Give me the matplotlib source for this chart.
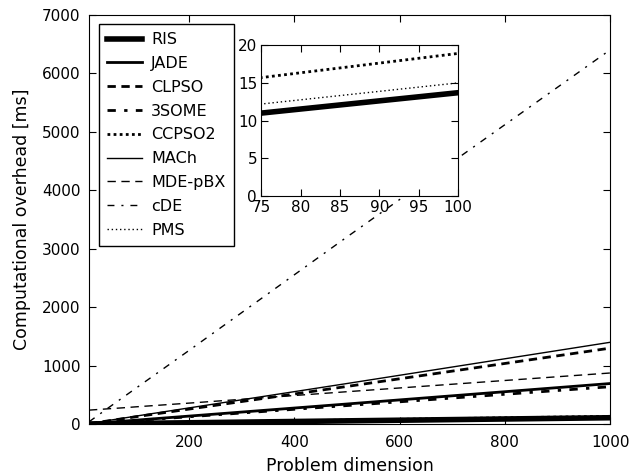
import matplotlib
matplotlib.use('Agg')
import matplotlib.pyplot as plt

# problem dimensions and overhead in ms
dims = [10, 50, 75, 100, 200, 500, 1000]
ris = [4, 8.3, 11.0, 13.7, 24, 57, 110]
jade = [5, 33, 51, 69, 138, 345, 695]
clpso = [6, 62, 95, 128, 258, 645, 1300]
some3 = [4, 30, 47, 63, 127, 318, 640]
ccpso2 = [7.4, 12.5, 15.7, 18.9, 31.5, 70, 134]
mach = [8, 68, 103, 139, 278, 695, 1400]
mdepbx = [240, 265, 280, 297, 360, 555, 875]
cde = [40, 300, 460, 620, 1260, 3200, 6400]
pms = [5, 9.4, 12.2, 15.0, 26, 60, 116]

plt.rcParams['font.family'] = 'DejaVu Sans'
plt.rcParams['xtick.direction'] = 'in'
plt.rcParams['ytick.direction'] = 'in'
plt.rcParams['xtick.top'] = True
plt.rcParams['ytick.right'] = True
plt.rcParams['xtick.major.size'] = 5
plt.rcParams['ytick.major.size'] = 5

#style for each series: (label, data, linestyle, linewidth)
series = [
    ('RIS', ris, '-', 4),
    ('JADE', jade, '-', 2),
    ('CLPSO', clpso, (0, (3, 2)), 2),
    ('3SOME', some3, (0, (3, 3, 1.2, 3)), 2),
    ('CCPSO2', ccpso2, (0, (1, 1.2)), 2),
    ('MACh', mach, '-', 1),
    ('MDE-pBX', mdepbx, (0, (6, 4)), 1),
    ('cDE', cde, (0, (5, 5, 1.5, 5)), 1),
    ('PMS', pms, (0, (1, 2)), 1),
]

fig = plt.figure(figsize=(6.31, 4.75), dpi=100)
ax = fig.add_axes([0.141, 0.107, 0.826, 0.862])
for name, vals, ls, lw in series:
    ax.plot(dims, vals, color='black', linestyle=ls, linewidth=lw, label=name)

ax.set_xlim(10, 1000)
ax.set_ylim(0, 7000)
ax.set_xticks([200, 400, 600, 800, 1000])
ax.set_yticks(range(0, 7001, 1000))
ax.tick_params(labelsize=11, pad=6)
ax.tick_params(axis='x', pad=8)
ax.set_xlabel('Problem dimension', fontsize=12.5, labelpad=5)
ax.set_ylabel('Computational overhead [ms]', fontsize=12.5, labelpad=8)

leg = ax.legend(loc='upper left', fontsize=11.5, fancybox=False, edgecolor='black',
                handlelength=2.2, handletextpad=0.6, borderaxespad=0.6, framealpha=1,
                labelspacing=0.55, borderpad=0.5)
leg.get_frame().set_linewidth(1)

#zoomed inset for the small values
ins = fig.add_axes([0.414, 0.587, 0.312, 0.318])
for name, vals, ls, lw in series:
    ins.plot(dims, vals, color='black', linestyle=ls, linewidth=lw)
ins.set_xlim(75, 100)
ins.set_ylim(0, 20)
ins.set_xticks([75, 80, 85, 90, 95, 100])
ins.set_yticks([0, 5, 10, 15, 20])
ins.tick_params(labelsize=11, pad=3)

fig.savefig('out.png', dpi=100)
